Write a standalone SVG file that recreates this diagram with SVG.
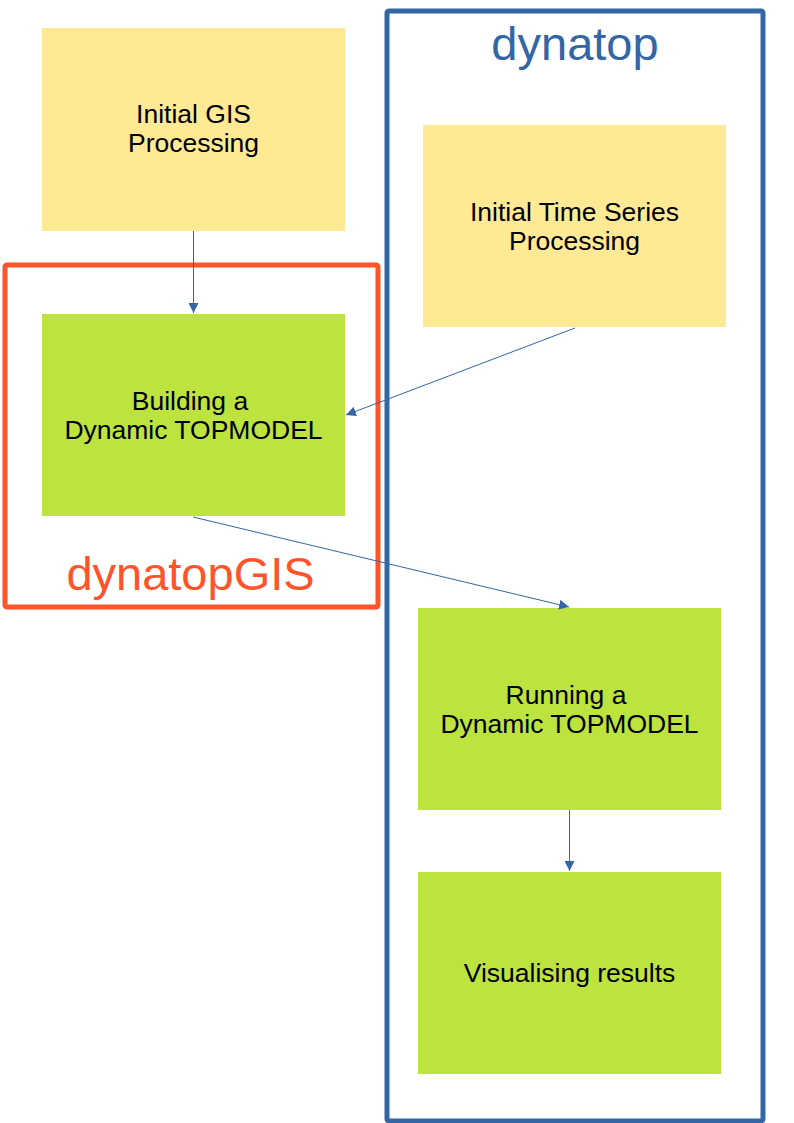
<svg xmlns="http://www.w3.org/2000/svg" width="794" height="1123" viewBox="0 0 794 1123">
<style>
.yel{fill:#ffe994}
.grn{fill:#bde33e}
.lbl{font-family:"Liberation Sans",Arial,sans-serif;font-size:26.5px;fill:#000;text-anchor:middle}
.big{font-family:"Liberation Sans",Arial,sans-serif;font-size:47px;text-anchor:middle}
.con{stroke:#3465a4;stroke-width:1;fill:none;marker-end:url(#ah)}
</style>
<defs>
<marker id="ah" viewBox="0 0 10 10" refX="10" refY="5" markerWidth="10" markerHeight="10" markerUnits="userSpaceOnUse" orient="auto">
<path d="M0,0 L10,5 L0,10 Z" fill="#3465a4"/>
</marker>
</defs>
<rect width="794" height="1123" fill="#fff"/>
<g id="group-dynatop">
<rect x="387" y="11" width="376" height="1110" fill="none" stroke="#3465a4" stroke-width="5" rx="2"/>
<text class="big" x="575" y="60" fill="#3465a4">dynatop</text>
</g>
<g id="group-dynatopGIS">
<rect x="5" y="265" width="373" height="342" fill="none" stroke="#ff5429" stroke-width="5" rx="2"/>
<text class="big" x="190.5" y="590" fill="#ff5429">dynatopGIS</text>
</g>
<g id="node-gis">
<rect class="yel" x="42" y="28" width="303" height="203"/>
<text class="lbl" x="193.5" y="123">Initial GIS</text>
<text class="lbl" x="193.5" y="152">Processing</text>
</g>
<g id="node-build">
<rect class="grn" x="42" y="314" width="303" height="202"/>
<text class="lbl" x="190" y="410">Building a</text>
<text class="lbl" x="193.5" y="439">Dynamic TOPMODEL</text>
</g>
<g id="node-ts">
<rect class="yel" x="423" y="125" width="303" height="202"/>
<text class="lbl" x="574.5" y="221">Initial Time Series</text>
<text class="lbl" x="574.5" y="250">Processing</text>
</g>
<g id="node-run">
<rect class="grn" x="418" y="608" width="303" height="202"/>
<text class="lbl" x="566" y="704">Running a</text>
<text class="lbl" x="569.5" y="733">Dynamic TOPMODEL</text>
</g>
<g id="node-vis">
<rect class="grn" x="418" y="872" width="303" height="202"/>
<text class="lbl" x="569.5" y="982">Visualising results</text>
</g>
<g id="connectors">
<line class="con" x1="193.5" y1="231" x2="193.5" y2="313"/>
<line class="con" x1="575" y1="328" x2="346" y2="415"/>
<line class="con" x1="193" y1="517" x2="569" y2="607"/>
<line class="con" x1="569.5" y1="810" x2="569.5" y2="871"/>
</g>
</svg>
